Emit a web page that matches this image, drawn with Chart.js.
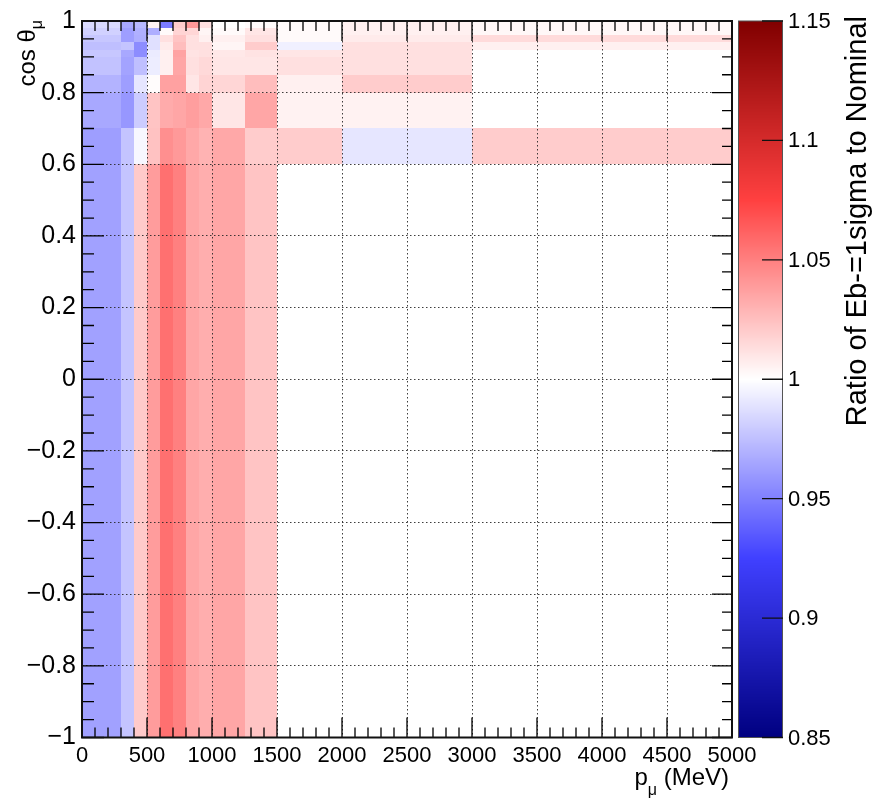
<!DOCTYPE html>
<html><head><meta charset="utf-8">
<script src="https://cdn.jsdelivr.net/npm/chart.js@4.4.1/dist/chart.umd.min.js"></script>
<style>html,body{margin:0;padding:0;background:#fff;}canvas{display:block;}</style>
</head><body>
<canvas id="c" width="873" height="805"></canvas>
<script>
// ---------- data ----------
const pEdgesLow  = [0, 300, 400, 500, 600, 700, 800, 900, 1000, 1250, 1500];
const pEdgesHigh = [0, 300, 400, 500, 600, 700, 800, 900, 1000, 1250, 1500, 2000, 3000, 5000];
const cosEdges   = [-1, 0.6, 0.7, 0.8, 0.85, 0.9, 0.92, 0.94, 0.96, 0.98, 1.0];

const ratio_m100_060 = [0.963, 0.977, 1.021, 1.039, 1.056, 1.050, 1.035, 1.032, 1.035, 1.023];
const ratio_060_070  = [0.962, 0.977, 0.997, 1.024, 1.044, 1.040, 1.034, 1.030, 1.034, 1.020, 1.020, 0.990, 1.020];
const ratio_070_080  = [0.966, 0.959, 0.980, 1.023, 1.033, 1.035, 1.038, 1.034, 1.010, 1.035, 1.005, 1.005, 1.000];
const ratio_080_085  = [0.970, 0.962, 0.990, 1.001, 1.037, 1.037, 1.010, 1.017, 1.016, 1.026, 1.006, 1.020, 1.000];
const ratio_085_090  = [0.976, 0.964, 0.975, 0.993, 1.006, 1.035, 1.012, 1.015, 1.010, 1.010, 1.012, 1.012, 1.000];
const ratio_090_092  = [0.978, 0.966, 0.955, 0.992, 1.006, 1.036, 1.011, 1.012, 1.009, 1.011, 1.010, 1.012, 1.000];
const ratio_092_094  = [0.975, 0.977, 0.955, 0.988, 1.008, 1.026, 1.012, 1.012, 1.004, 1.020, 0.994, 1.012, 1.006];
const ratio_094_096  = [0.978, 0.962, 0.968, 0.988, 1.012, 1.023, 1.012, 1.006, 1.006, 1.012, 1.002, 1.008, 1.014];
const ratio_096_098  = [0.982, 0.962, 0.969, 0.968, 1.002, 1.017, 1.016, 1.004, 1.002, 1.010, 1.002, 1.006, 1.003];
const ratio_098_100  = [0.986, 0.966, 0.972, 1.005, 0.948, 1.020, 1.040, 1.012, 1.000, 1.002, 1.002, 1.006, 1.003];

const rowValues = [ratio_m100_060, ratio_060_070, ratio_070_080, ratio_080_085, ratio_085_090,
                   ratio_090_092, ratio_092_094, ratio_094_096, ratio_096_098, ratio_098_100];
const rowPEdges = [pEdgesLow, pEdgesHigh, pEdgesHigh, pEdgesHigh, pEdgesHigh,
                   pEdgesHigh, pEdgesHigh, pEdgesHigh, pEdgesHigh, pEdgesHigh];

const xTickValues = [0, 500, 1000, 1500, 2000, 2500, 3000, 3500, 4000, 4500, 5000];
const xTickLabels = ['0','500','1000','1500','2000','2500','3000','3500','4000','4500','5000'];
const yTickValues = [-1, -0.8, -0.6, -0.4, -0.2, 0, 0.2, 0.4, 0.6, 0.8, 1];
const yTickLabels = ['\u22121','\u22120.8','\u22120.6','\u22120.4','\u22120.2','0','0.2','0.4','0.6','0.8','1'];
const zTickValues = [0.85, 0.9, 0.95, 1.0, 1.05, 1.1, 1.15];
const zTickLabels = ['0.85','0.9','0.95','1','1.05','1.1','1.15'];

const zMin = 0.85, zMax = 1.15;
const paletteStops = [[0.85,[0,0,128]],[0.925,[64,64,255]],[1.0,[255,255,255]],[1.075,[255,64,64]],[1.15,[128,0,0]]];

// ---------- build cells ----------
const cells = [];
rowValues.forEach((vals, r) => {
  const edges = rowPEdges[r];
  vals.forEach((v, i) => {
    cells.push({x: (edges[i]+edges[i+1])/2, y: (cosEdges[r]+cosEdges[r+1])/2,
                x0: edges[i], x1: edges[i+1], y0: cosEdges[r], y1: cosEdges[r+1], v: v});
  });
});

function ratioColor(v) {
  v = Math.max(zMin, Math.min(zMax, v));
  for (let i = 0; i < paletteStops.length - 1; i++) {
    const [a, ca] = paletteStops[i], [b, cb] = paletteStops[i+1];
    if (v <= b) {
      const t = (v - a) / (b - a);
      const c = ca.map((k, j) => Math.round(k + (cb[j] - k) * t));
      return `rgb(${c[0]},${c[1]},${c[2]})`;
    }
  }
  const c = paletteStops[paletteStops.length-1][1];
  return `rgb(${c[0]},${c[1]},${c[2]})`;
}

const FONT = '"Liberation Sans", Arimo, Arial, Helvetica, sans-serif';

const heatPlugin = {
  id: 'heat',
  beforeDraw(chart) {
    const ctx = chart.ctx;
    ctx.save(); ctx.fillStyle = '#fff'; ctx.fillRect(0, 0, chart.width, chart.height); ctx.restore();
  },
  beforeDatasetsDraw(chart) {
    const {ctx, chartArea: a, scales: {x, y}} = chart;
    ctx.save();
    ctx.beginPath(); ctx.rect(a.left, a.top, a.right - a.left, a.bottom - a.top); ctx.clip();
    chart.data.datasets[0].data.forEach(c => {
      const l = Math.round(x.getPixelForValue(c.x0)), r = Math.round(x.getPixelForValue(c.x1));
      const t = Math.round(y.getPixelForValue(c.y1)), b = Math.round(y.getPixelForValue(c.y0));
      ctx.fillStyle = ratioColor(c.v);
      ctx.fillRect(l, t, r - l, b - t);
    });
    ctx.restore();
  },
  afterDraw(chart) {
    const {ctx, chartArea: a, scales: {x, y, z}} = chart;
    ctx.save();
    // inner ticks
    ctx.strokeStyle = '#000'; ctx.lineWidth = 1.3;
    const MAJ = 20, MIN = 10;
    ctx.beginPath();
    xTickValues.forEach((v, i) => {
      const px = x.getPixelForValue(v);
      ctx.moveTo(px, a.bottom); ctx.lineTo(px, a.bottom - MAJ);
      ctx.moveTo(px, a.top); ctx.lineTo(px, a.top + MAJ);
      if (i < xTickValues.length - 1) {
        const step = (xTickValues[i+1] - v) / 5;
        for (let k = 1; k < 5; k++) {
          const pm = x.getPixelForValue(v + k * step);
          ctx.moveTo(pm, a.bottom); ctx.lineTo(pm, a.bottom - MIN);
          ctx.moveTo(pm, a.top); ctx.lineTo(pm, a.top + MIN);
        }
      }
    });
    yTickValues.forEach((v, i) => {
      const py = y.getPixelForValue(v);
      ctx.moveTo(a.left, py); ctx.lineTo(a.left + MAJ + 2, py);
      ctx.moveTo(a.right, py); ctx.lineTo(a.right - MAJ, py);
      if (i < yTickValues.length - 1) {
        const step = (yTickValues[i+1] - v) / 4;
        for (let k = 1; k < 4; k++) {
          const pm = y.getPixelForValue(v + k * step);
          ctx.moveTo(a.left, pm); ctx.lineTo(a.left + MIN + 2, pm);
          ctx.moveTo(a.right, pm); ctx.lineTo(a.right - MIN, pm);
        }
      }
    });
    ctx.stroke();
    // frame
    ctx.lineWidth = 2; ctx.strokeStyle = '#111';
    ctx.strokeRect(a.left, a.top, a.right - a.left, a.bottom - a.top);

    // colour bar
    const cbL = 738, cbR = 783;
    const top = z.getPixelForValue(zMax), bot = z.getPixelForValue(zMin);
    for (let py = Math.floor(top); py < Math.ceil(bot); py++) {
      ctx.fillStyle = ratioColor(z.getValueForPixel(py + 0.5));
      ctx.fillRect(cbL, py, cbR - cbL, 1);
    }
    ctx.lineWidth = 1; ctx.strokeStyle = '#555';
    ctx.strokeRect(cbL + 0.5, top, cbR - cbL - 1, bot - top);
    ctx.strokeStyle = '#111'; ctx.lineWidth = 1.3;
    ctx.beginPath();
    zTickValues.forEach(v => {
      const py = z.getPixelForValue(v);
      ctx.moveTo(cbR, py); ctx.lineTo(cbR - 21, py);
    });
    ctx.stroke();
    ctx.fillStyle = '#000'; ctx.font = `22px ${FONT}`;
    ctx.textAlign = 'left'; ctx.textBaseline = 'middle';
    zTickValues.forEach((v, i) => ctx.fillText(zTickLabels[i], 788, z.getPixelForValue(v) + 1));

    // colour bar title
    ctx.save();
    ctx.translate(866, 16);
    ctx.rotate(-Math.PI / 2);
    ctx.font = `29px ${FONT}`; ctx.textAlign = 'right'; ctx.textBaseline = 'alphabetic';
    ctx.fillText('Ratio of Eb-=1sigma to Nominal', 0, 0);
    ctx.restore();

    // x title: p_mu (MeV)
    ctx.textAlign = 'left'; ctx.textBaseline = 'alphabetic';
    const big = `24px ${FONT}`, small = `16px ${FONT}`;
    ctx.font = big; const wP = ctx.measureText('p').width, wM = ctx.measureText(' (MeV)').width;
    ctx.font = small; const wMu = ctx.measureText('\u03bc').width;
    let sx = 729 - wM - wMu - wP;
    ctx.font = big; ctx.fillText('p', sx, 785);
    ctx.font = small; ctx.fillText('\u03bc', sx + wP, 795);
    ctx.font = big; ctx.fillText(' (MeV)', sx + wP + wMu, 785);

    // y title: cos theta_mu
    ctx.save();
    ctx.translate(35, 20);
    ctx.rotate(-Math.PI / 2);
    ctx.font = big; const wC = ctx.measureText('cos \u03b8').width;
    ctx.font = small; const wMu2 = ctx.measureText('\u03bc').width;
    const st = -(wC + wMu2);
    ctx.font = big; ctx.fillText('cos \u03b8', st, 0);
    ctx.font = small; ctx.fillText('\u03bc', st + wC, 7);
    ctx.restore();

    ctx.restore();
  }
};

new Chart(document.getElementById('c'), {
  type: 'scatter',
  data: { datasets: [{ data: cells, pointRadius: 0, pointHoverRadius: 0, showLine: false }] },
  options: {
    responsive: false, animation: false, devicePixelRatio: 1, events: [],
    layout: { padding: { left: 0, top: 16.5, right: 141, bottom: 0 } },
    plugins: { legend: { display: false }, tooltip: { enabled: false } },
    scales: {
      x: {
        type: 'linear', position: 'bottom', min: 0, max: 5000,
        afterBuildTicks: s => { s.ticks = xTickValues.map(v => ({ value: v })); },
        afterFit: s => { s.height = 67.5; },
        ticks: { callback: (v, i) => xTickLabels[i], font: { family: FONT, size: 22 }, color: '#000',
                 padding: 5, maxRotation: 0, minRotation: 0, autoSkip: false },
        grid: { color: 'rgba(40,40,40,0.9)', lineWidth: 1, drawTicks: false, z: 1 },
        border: { display: false, dash: [1.5, 2.5] }
      },
      y: {
        type: 'linear', position: 'left', min: -1, max: 1,
        afterBuildTicks: s => { s.ticks = yTickValues.map(v => ({ value: v })); },
        afterFit: s => { s.width = 82; },
        ticks: { callback: (v, i) => yTickLabels[i], font: { family: FONT, size: 25 }, color: '#000',
                 padding: 6, autoSkip: false },
        grid: { color: 'rgba(40,40,40,0.9)', lineWidth: 1, drawTicks: false, z: 1 },
        border: { display: false, dash: [1.5, 2.5] }
      },
      z: { type: 'linear', axis: 'y', position: 'right', min: zMin, max: zMax, display: false }
    }
  },
  plugins: [heatPlugin]
});
</script>
</body></html>
